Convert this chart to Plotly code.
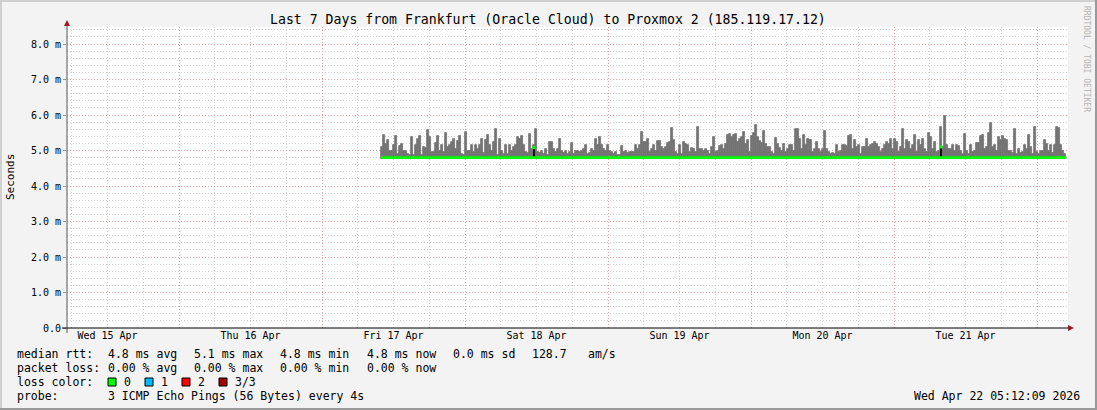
import plotly.graph_objects as go
import pandas as pd

# ---------------- data (values in ms) ----------------
title_text = "Last 7 Days from Frankfurt (Oracle Cloud) to Proxmox 2 (185.119.17.12)"
range_start = "2026-04-15 05:12:09"
range_end = "2026-04-22 05:12:09"
data_start = "2026-04-17 09:54:00"
data_end = "2026-04-22 04:55:00"

smoke_base_ms = 4.76
smoke_top_ms = [
    # Fri 17 -> Sat 18
    5.10, 5.43, 5.18, 5.30, 5.00, 4.98, 5.15, 5.41, 4.91, 5.12, 5.17, 5.00, 4.98, 4.91, 4.86, 5.37,
    4.86, 5.15, 5.33, 5.41, 4.86, 5.10, 5.07, 5.59, 5.38, 4.96, 4.96, 5.20, 5.41, 5.00, 5.15, 4.96,
    5.49, 5.10, 5.16, 5.24, 5.33, 5.05, 5.28, 5.41, 4.91, 4.88, 5.52, 5.00, 4.98, 5.15, 4.96, 5.16,
    5.05, 5.15, 5.33, 4.94, 5.31, 5.43, 5.15, 5.00,
    # Sat 18
    5.24, 5.60, 4.86, 5.33, 5.00, 4.91, 5.15, 4.91, 5.15, 4.98, 5.10, 5.15, 5.38, 5.33, 5.41, 5.15,
    4.96, 4.94, 5.46, 5.05, 5.15, 5.60, 4.96, 4.94, 4.98, 4.91, 5.05, 4.88, 5.24, 5.24, 5.05, 4.96,
    5.05, 5.33, 5.00, 4.94, 4.98, 4.91, 4.96, 5.21, 4.91, 4.98, 4.98, 4.96, 5.00, 5.05, 5.15, 4.91,
    4.93, 5.05, 4.98, 5.33, 5.15, 5.38, 5.15, 5.05, 5.00,
    # Sat 18 -> Sun 19
    5.16, 4.98, 4.96, 4.91, 4.96, 4.88, 4.86, 5.12, 4.96, 5.00, 4.93, 4.96, 4.96, 4.96, 5.15, 5.05,
    5.15, 5.52, 5.24, 5.24, 5.33, 4.96, 5.05, 5.15, 5.00, 5.27, 5.27, 5.10, 5.05, 5.10, 5.21, 5.24,
    5.63, 5.29, 4.96, 4.91, 5.15, 4.91, 5.24, 5.19, 5.15, 4.96, 5.07, 5.05, 4.96, 5.66, 5.05, 5.03,
    4.98, 5.05, 5.00, 4.91, 5.10, 5.38, 4.96, 5.00, 5.12,
    # Sun 19 -> Mon 20
    5.15, 5.05, 5.19, 5.43, 5.46, 5.38, 5.45, 5.47, 5.24, 5.33, 5.38, 5.52, 5.19, 5.29, 4.96, 5.41,
    5.50, 5.71, 5.38, 5.26, 5.22, 5.54, 5.19, 5.10, 5.10, 4.96, 4.91, 5.35, 5.19, 5.07, 4.98, 5.19,
    4.96, 5.05, 5.15, 5.15, 4.98, 5.60, 5.60, 5.33, 5.05, 5.43, 5.15, 5.33, 5.31, 5.31, 4.96, 5.05,
    5.24, 5.05, 4.96, 5.05, 5.55, 5.05, 4.96, 4.91, 4.94,
    # Mon 20 -> Tue 21
    4.91, 5.15, 4.96, 4.98, 5.15, 5.16, 5.13, 5.41, 5.45, 5.05, 5.29, 5.10, 5.15, 4.91, 5.10, 5.10,
    5.33, 5.10, 5.15, 5.19, 5.24, 5.19, 5.10, 4.96, 5.05, 5.15, 5.24, 5.19, 5.33, 5.05, 5.33, 5.24,
    4.96, 5.10, 5.60, 5.05, 5.29, 5.24, 5.05, 5.15, 5.43, 4.96, 5.29, 5.15, 5.33, 5.05, 4.96, 5.48,
    5.38, 5.05, 5.24, 4.96, 5.00, 5.66, 5.10, 5.97, 5.15,
    # Tue 21 -> Wed 22
    5.05, 5.03, 5.16, 5.00, 5.15, 5.12, 5.00, 4.91, 5.46, 4.98, 4.91, 5.15, 4.96, 4.98, 5.22, 5.22,
    5.41, 5.45, 5.05, 5.10, 5.50, 5.78, 5.10, 5.15, 5.00, 5.38, 5.31, 5.41, 5.33, 5.29, 4.98, 4.98,
    4.94, 5.60, 4.91, 5.05, 4.94, 4.96, 5.15, 5.05, 5.43, 5.10, 4.91, 5.66, 4.96, 4.91, 4.98, 5.00,
    5.29, 5.17, 4.98, 5.15, 4.94, 5.15, 5.66, 5.64, 5.15, 5.00, 4.91,
]

median_times = [data_start, data_end]
median_ms = [4.80, 4.80]
median_spike_times = ["2026-04-18 11:34:00", "2026-04-21 07:53:00"]
median_spike_ms = [5.08, 5.10]

y_tick_vals = [0, 1, 2, 3, 4, 5, 6, 7, 8]
y_tick_text = ["0.0", "1.0 m", "2.0 m", "3.0 m", "4.0 m", "5.0 m", "6.0 m", "7.0 m", "8.0 m"]

legend_rows = [
    ["median rtt:", "4.8 ms avg", "5.1 ms max", "4.8 ms min", "4.8 ms now", "0.0 ms sd", "128.7", "am/s"],
    ["packet loss:", "0.00 % avg", "0.00 % max", "0.00 % min", "0.00 % now"],
]
loss_labels = ["0", "1", "2", "3/3"]
loss_colors = ["#00ff00", "#00b8ff", "#ff0000", "#a00000"]
probe_text = "3 ICMP Echo Pings (56 Bytes) every 4s"
stamp_text = "Wed Apr 22 05:12:09 2026"

# ---------------- layout geometry ----------------
W, H = 1097, 410
PL, PR, PT, PB = 67, 1068, 27, 328
PW, PH = PR - PL, PB - PT


def px(x):
    return (x - PL) / PW


def py(y):
    return (PB - y) / PH


MONO = "DejaVu Sans Mono"

# ---------------- traces ----------------
t0 = pd.Timestamp(data_start)
t1 = pd.Timestamp(data_end)
n = len(smoke_top_ms)
step = (t1 - t0) / n
bar_x = [t0 + step * (i + 0.5) for i in range(n)]
bar_h = [v - smoke_base_ms for v in smoke_top_ms]
step_ms = step.total_seconds() * 1000

fig = go.Figure()
fig.add_trace(go.Bar(
    x=bar_x, y=bar_h, base=smoke_base_ms, width=step_ms,
    marker=dict(color="#747474", line=dict(width=0.8, color="#747474")),
    hoverinfo="skip", showlegend=False,
))
fig.add_trace(go.Scatter(
    x=median_times, y=median_ms, mode="lines",
    line=dict(color="#00ff00", width=2.6), showlegend=False, hoverinfo="skip",
))
fig.add_trace(go.Bar(
    x=median_spike_times, y=[v - smoke_base_ms for v in median_spike_ms], base=smoke_base_ms,
    width=600 * 1000, marker=dict(color="#111111", line=dict(width=0)),
    showlegend=False, hoverinfo="skip",
))
fig.add_trace(go.Scatter(
    x=median_spike_times, y=median_spike_ms, mode="markers",
    marker=dict(symbol="square", size=3, color="#00ff00"), showlegend=False, hoverinfo="skip",
))

# ---------------- axes ----------------
fig.update_xaxes(
    type="date", range=[range_start, range_end],
    tick0="2026-04-15", dtick=86400000, ticklabelmode="period", tickformat="%a %d %b",
    showgrid=True, gridcolor="#f2a0a0", griddash="1px,2px", gridwidth=1,
    minor=dict(dtick=6 * 3600 * 1000, tick0="2026-04-15", showgrid=True,
               gridcolor="#d2d2d2", griddash="1px,2px", gridwidth=1),
    ticks="", showline=False, zeroline=False,
    tickfont=dict(family=MONO, size=10, color="#000"),
)
fig.update_yaxes(
    range=[0, 8.48], tickmode="array", tickvals=y_tick_vals, ticktext=y_tick_text,
    showgrid=True, gridcolor="#f2a0a0", griddash="1px,2px", gridwidth=1,
    minor=dict(tickmode="linear", tick0=0, dtick=0.2, showgrid=True,
               gridcolor="#d2d2d2", griddash="1px,2px", gridwidth=1),
    ticks="outside", ticklen=3, tickcolor="#999", showline=False, zeroline=False,
    tickfont=dict(family=MONO, size=10, color="#000"),
)

shapes = []
# axis lines
shapes.append(dict(type="line", xref="paper", yref="paper", x0=px(PL), x1=px(PL), y0=py(333), y1=py(24),
                   line=dict(color="#555555", width=1)))
shapes.append(dict(type="line", xref="paper", yref="paper", x0=px(62), x1=px(PR + 1), y0=0, y1=0,
                   line=dict(color="#000000", width=1)))
# arrows
shapes.append(dict(type="path", xref="paper", yref="paper",
                   path=f"M {px(64)} {py(26)} L {px(70)} {py(26)} L {px(67)} {py(20)} Z",
                   fillcolor="#9b1c1c", line=dict(width=0)))
shapes.append(dict(type="path", xref="paper", yref="paper",
                   path=f"M {px(1068)} {py(325)} L {px(1068)} {py(331)} L {px(1074)} {py(328)} Z",
                   fillcolor="#9b1c1c", line=dict(width=0)))
# frame (3d style)
shapes.append(dict(type="rect", xref="paper", yref="paper", x0=px(0), x1=px(W), y0=py(H), y1=py(H - 2),
                   fillcolor="#9a9a9a", line=dict(width=0)))
shapes.append(dict(type="rect", xref="paper", yref="paper", x0=px(W - 2), x1=px(W), y0=py(H), y1=py(0),
                   fillcolor="#9a9a9a", line=dict(width=0)))
shapes.append(dict(type="rect", xref="paper", yref="paper", x0=px(0), x1=px(W - 2), y0=py(2), y1=py(0),
                   fillcolor="#d0d0d0", line=dict(width=0)))
shapes.append(dict(type="rect", xref="paper", yref="paper", x0=px(0), x1=px(2), y0=py(H - 2), y1=py(0),
                   fillcolor="#d0d0d0", line=dict(width=0)))

annotations = []


def text_at(x, y, s, size=11.5, anchor="left", color="#000", angle=0):
    annotations.append(dict(xref="paper", yref="paper", x=px(x), y=py(y), text=s, showarrow=False,
                            xanchor=anchor, yanchor="middle", textangle=angle, borderpad=0,
                            font=dict(family=MONO, size=size, color=color)))


text_at(548, 19, title_text, size=13.2, anchor="center")
text_at(10, 177, "Seconds", size=11, anchor="center", angle=-90)
text_at(1087, 59, "RRDTOOL / TOBI OETIKER", size=8, anchor="center", color="#b4b4b4", angle=90)

row1_x = [16, 107, 193, 279, 366, 452, 531, 587]
for xx, s in zip(row1_x, legend_rows[0]):
    text_at(xx, 354, s)
row2_x = [16, 107, 193, 279, 366]
for xx, s in zip(row2_x, legend_rows[1]):
    text_at(xx, 368, s)
text_at(16, 382, "loss color:")
box_x = [108, 145, 182, 219]
for bx, lab, col in zip(box_x, loss_labels, loss_colors):
    shapes.append(dict(type="rect", xref="paper", yref="paper", x0=px(bx), x1=px(bx + 8),
                       y0=py(386), y1=py(378), fillcolor=col, line=dict(color="#000", width=1)))
    text_at(bx + 15, 382, lab)
text_at(16, 396, "probe:")
text_at(107, 396, probe_text)
text_at(1081, 396, stamp_text, anchor="right")

fig.update_layout(
    width=W, height=H,
    margin=dict(l=PL, r=W - PR, t=PT, b=H - PB, pad=0),
    paper_bgcolor="#f3f3f3", plot_bgcolor="#ffffff",
    barmode="overlay", bargap=0,
    showlegend=False, shapes=shapes, annotations=annotations,
    font=dict(family=MONO),
)

fig.write_html(
    "out.html",
    config={"displayModeBar": False},
    post_script="document.body.style.margin='0';document.body.style.padding='0';"
                "document.documentElement.style.overflow='hidden';",
)
